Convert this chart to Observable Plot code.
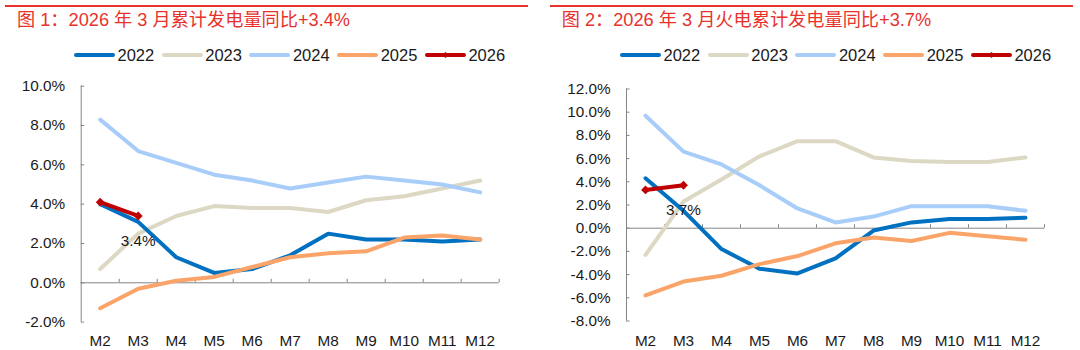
<!DOCTYPE html>
<html><head><meta charset="utf-8">
<script src="https://cdn.jsdelivr.net/npm/d3@7"></script>
<script src="https://cdn.jsdelivr.net/npm/@observablehq/plot@0.6"></script>
<style>
body{margin:0;background:#fff;}
#wrap{position:relative;width:1080px;height:350px;overflow:hidden;font-family:"Liberation Sans",Arial,"Noto Sans CJK SC",sans-serif;}
.panel{position:absolute;top:0;width:540px;height:350px;}
.rule{position:absolute;top:5px;height:2px;background:#E8322C;}
.title{position:absolute;top:10.5px;font-size:18.2px;line-height:18px;color:#E8322C;white-space:nowrap;font-family:"Liberation Sans",Arial,"Noto Sans CJK SC",sans-serif;}
.legend{position:absolute;top:46px;height:18px;display:flex;align-items:center;font-size:16.5px;line-height:18px;color:#1a1a1a;white-space:nowrap;}
.item{display:flex;align-items:center;margin-right:7.5px;}
.item svg{margin-right:2.5px;display:block;}
.plot{position:absolute;top:70px;left:0;}
</style></head><body><div id="wrap"></div>
<script>
// ---- data ----
const months = ["M2","M3","M4","M5","M6","M7","M8","M9","M10","M11","M12"];
const years = ["2022","2023","2024","2025","2026"];
const colors = ["#0070C0","#DDD8C4","#A9CDF9","#FBA46A","#C00000"];

// Chart 1: cumulative power generation YoY (%)
const total2022 = [4.0, 3.1, 1.3, 0.5, 0.7, 1.4, 2.5, 2.2, 2.2, 2.1, 2.2];
const total2023 = [0.7, 2.5, 3.4, 3.9, 3.8, 3.8, 3.6, 4.2, 4.4, 4.8, 5.2];
const total2024 = [8.3, 6.7, 6.1, 5.5, 5.2, 4.8, 5.1, 5.4, 5.2, 5.0, 4.6];
const total2025 = [-1.3, -0.3, 0.1, 0.3, 0.8, 1.3, 1.5, 1.6, 2.3, 2.4, 2.2];
const total2026 = [4.1, 3.4];
const totalTicks = [-2, 0, 2, 4, 6, 8, 10];

// Chart 2: cumulative thermal power generation YoY (%)
const thermal2022 = [4.3, 1.5, -1.8, -3.5, -3.9, -2.6, -0.2, 0.5, 0.8, 0.8, 0.9];
const thermal2023 = [-2.3, 2.3, 4.2, 6.2, 7.5, 7.5, 6.1, 5.8, 5.7, 5.7, 6.1];
const thermal2024 = [9.7, 6.6, 5.5, 3.7, 1.7, 0.5, 1.0, 1.9, 1.9, 1.9, 1.5];
const thermal2025 = [-5.8, -4.6, -4.1, -3.1, -2.4, -1.3, -0.8, -1.1, -0.4, -0.7, -1.0];
const thermal2026 = [3.3, 3.7];
const thermalTicks = [-8, -6, -4, -2, 0, 2, 4, 6, 8, 10, 12];

const title1 = "图 1：2026 年 3 月累计发电量同比+3.4%";
const title2 = "图 2：2026 年 3 月火电累计发电量同比+3.7%";

// ---- drawing ----
const axisColor = "#858585";
const drawOrder = [1, 2, 0, 3, 4];
const fmt = d => d.toFixed(1) + "%";

function chart(series, cfg) {
  const idx = months.map((m, i) => i);
  const edges = months.map((m, i) => i + 0.5);
  const pts = series.map(vals => vals.map((v, i) => ({i, v})));
  const cur = pts[4];
  const last = cur[cur.length - 1];
  return Plot.plot({
    width: 540, height: 280,
    marginLeft: cfg.ml, marginRight: cfg.mr, marginTop: cfg.mt, marginBottom: cfg.mb,
    style: {fontFamily: "Liberation Sans, Arial, sans-serif", fontSize: "15.3px", color: "#1a1a1a", background: "transparent", overflow: "visible"},
    x: {type: "linear", domain: [-0.5, months.length - 0.5], ticks: idx, tickFormat: i => months[i], tickSize: 0, tickPadding: cfg.xpad, label: null},
    y: {domain: [cfg.ticks[0], cfg.ticks[cfg.ticks.length - 1]], ticks: cfg.ticks, tickFormat: fmt, tickSize: 0, tickPadding: 16, label: null},
    marks: [
      Plot.ruleX([-0.5], {stroke: axisColor, strokeWidth: 1}),
      Plot.ruleY(cfg.ticks, {x1: -0.5, x2: -0.5, insetRight: -3.5, stroke: axisColor}),
      Plot.ruleY([0], {stroke: axisColor, strokeWidth: 1}),
      Plot.ruleX(edges, {y1: 0, y2: 0, insetTop: -3.5, stroke: axisColor}),
      ...drawOrder.map(k => Plot.line(pts[k], {x: "i", y: "v", stroke: colors[k], strokeWidth: 4, strokeLinejoin: "round", strokeLinecap: "round"})),
      Plot.dot(cur, {x: "i", y: "v", symbol: "diamond2", r: 4, fill: colors[4], stroke: "none"}),
      Plot.text([last], {x: "i", y: "v", text: d => fmt(d.v), dy: 25, fontSize: 15.3, fill: "#1a1a1a"})
    ]
  });
}

function legend(left) {
  const lg = document.createElement("div");
  lg.className = "legend";
  lg.style.left = left + "px";
  years.forEach((y, k) => {
    const it = document.createElement("div");
    it.className = "item";
    const marker = k === 4 ? `<path d="M20.5,6 L24,9 L20.5,12 L17,9 Z" fill="${colors[k]}"/>` : "";
    it.innerHTML = `<svg width="41" height="18"><line x1="2" y1="9" x2="39" y2="9" stroke="${colors[k]}" stroke-width="4" stroke-linecap="round"/>${marker}</svg><span>${y}</span>`;
    lg.appendChild(it);
  });
  return lg;
}

function panel(x, title, ruleLeft, ruleWidth, titleLeft, legendLeft, series, cfg) {
  const p = document.createElement("div");
  p.className = "panel";
  p.style.left = x + "px";
  const r = document.createElement("div");
  r.className = "rule"; r.style.left = ruleLeft + "px"; r.style.width = ruleWidth + "px";
  p.appendChild(r);
  const t = document.createElement("div");
  t.className = "title"; t.style.left = titleLeft + "px"; t.textContent = title;
  p.appendChild(t);
  p.appendChild(legend(legendLeft));
  const svg = chart(series, cfg);
  svg.classList.add("plot");
  p.appendChild(svg);
  document.getElementById("wrap").appendChild(p);
}

panel(0, title1, 5, 523, 17, 74,
  [total2022, total2023, total2024, total2025, total2026],
  {ticks: totalTicks, ml: 80.7, mr: 41.3, mt: 15.7, mb: 28.4, xpad: 13});
panel(540, title2, 10, 523, 21.7, 80,
  [thermal2022, thermal2023, thermal2024, thermal2025, thermal2026],
  {ticks: thermalTicks, ml: 86, mr: 36, mt: 18.5, mb: 29.5, xpad: 14});
</script>
</body></html>
